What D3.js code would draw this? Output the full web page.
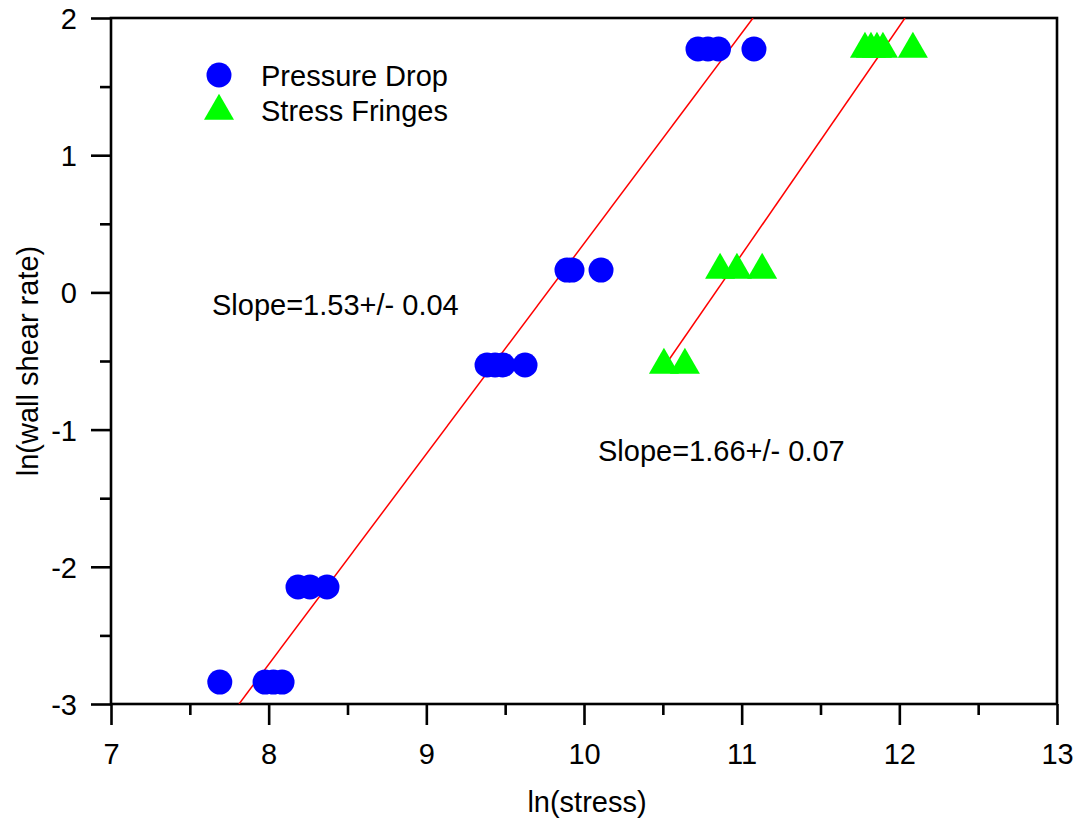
<!DOCTYPE html>
<html>
<head>
<meta charset="utf-8">
<script src="https://cdn.jsdelivr.net/npm/d3@7"></script>
<style>
  html, body { margin: 0; padding: 0; background: #fff; }
  svg { display: block; font-family: Arial, "Liberation Sans", sans-serif; }
</style>
</head>
<body>
<svg id="chart" width="1080" height="823"></svg>
<script>
// ---- Data ----
const pressureDropX = [7.69, 7.977, 8.03, 8.085, 8.186, 8.262, 8.37, 9.385, 9.436, 9.486, 9.626, 9.892, 9.924, 10.108, 10.723, 10.786, 10.853, 11.078];
const pressureDropY = [-2.84, -2.84, -2.84, -2.84, -2.147, -2.147, -2.147, -0.529, -0.529, -0.529, -0.529, 0.163, 0.163, 0.163, 1.774, 1.774, 1.774, 1.774];
const stressFringesX = [10.507, 10.64, 10.863, 10.97, 11.13, 11.782, 11.82, 11.858, 11.896, 12.086];
const stressFringesY = [-0.529, -0.529, 0.163, 0.163, 0.163, 1.774, 1.774, 1.774, 1.774, 1.774];
const fit1X = [7.812, 11.072];
const fit1Y = [-3, 2];
const fit2X = [10.507, 12.036];
const fit2Y = [-0.544, 2];
const xTicks = [7, 8, 9, 10, 11, 12, 13];
const xMinorTicks = [7.5, 8.5, 9.5, 10.5, 11.5, 12.5];
const yTicks = [-3, -2, -1, 0, 1, 2];
const yMinorTicks = [-2.5, -1.5, -0.5, 0.5, 1.5];
const seriesNames = ["Pressure Drop", "Stress Fringes"];
const annotations = ["Slope=1.53+/- 0.04", "Slope=1.66+/- 0.07"];
const xTitle = "ln(stress)";
const yTitle = "ln(wall shear rate)";

// ---- Layout ----
const L = 111, R = 1057, T = 18, B = 704;
const svg = d3.select("#chart");
const x = d3.scaleLinear().domain([7, 13]).range([L, R]);
const y = d3.scaleLinear().domain([-3, 2]).range([B, T]);

const FS = 29;
const triSize = 390;
const fmt = d => String(d);

// clip
svg.append("defs").append("clipPath").attr("id", "clip")
  .append("rect").attr("x", L).attr("y", T).attr("width", R - L).attr("height", B - T);

// frame
svg.append("rect").attr("x", L).attr("y", T).attr("width", R - L).attr("height", B - T)
  .attr("fill", "none").attr("stroke", "#000").attr("stroke-width", 2.6);

// axes
const xAxis = svg.append("g").attr("transform", `translate(0,${B})`)
  .call(d3.axisBottom(x).tickValues(xTicks).tickSize(21).tickPadding(18).tickFormat(fmt));
const xMinor = svg.append("g").attr("transform", `translate(0,${B})`)
  .call(d3.axisBottom(x).tickValues(xMinorTicks).tickSize(11).tickFormat(""));
const yAxis = svg.append("g").attr("transform", `translate(${L},0)`)
  .call(d3.axisLeft(y).tickValues(yTicks).tickSize(20).tickPadding(14).tickFormat(fmt));
const yMinor = svg.append("g").attr("transform", `translate(${L},0)`)
  .call(d3.axisLeft(y).tickValues(yMinorTicks).tickSize(11).tickFormat(""));

[xAxis, xMinor, yAxis, yMinor].forEach(g => {
  g.select(".domain").remove();
  g.selectAll(".tick line").attr("stroke", "#000").attr("stroke-width", 2.6);
  g.selectAll(".tick text").attr("font-size", FS).attr("fill", "#000")
    .attr("font-family", "Arial, 'Liberation Sans', sans-serif");
});
xAxis.selectAll(".tick text").attr("dy", "0.71em");
yAxis.selectAll(".tick text").attr("dy", "0.36em");

// fit lines
const plot = svg.append("g").attr("clip-path", "url(#clip)");
const line = d3.line().x(d => x(d[0])).y(d => y(d[1]));
[[fit1X, fit1Y], [fit2X, fit2Y]].forEach(([xs, ys]) => {
  plot.append("path").datum(xs.map((v, i) => [v, ys[i]]))
    .attr("d", line).attr("fill", "none").attr("stroke", "#ff0000").attr("stroke-width", 1.5);
});

// points
const pd = pressureDropX.map((v, i) => [v, pressureDropY[i]]);
const sf = stressFringesX.map((v, i) => [v, stressFringesY[i]]);
svg.append("g").selectAll("circle").data(pd).join("circle")
  .attr("cx", d => x(d[0])).attr("cy", d => y(d[1])).attr("r", 12.5).attr("fill", "#0000ff");
const tri = d3.symbol().type(d3.symbolTriangle).size(triSize);
svg.append("g").selectAll("path").data(sf).join("path")
  .attr("d", tri).attr("transform", d => `translate(${x(d[0])},${y(d[1])})`).attr("fill", "#00ff00");

// annotations
svg.append("text").attr("x", 212).attr("y", 315).attr("font-size", FS).text(annotations[0]);
svg.append("text").attr("x", 598).attr("y", 461).attr("font-size", FS).text(annotations[1]);

// legend
svg.append("circle").attr("cx", 219).attr("cy", 75).attr("r", 12.5).attr("fill", "#0000ff");
svg.append("path").attr("d", tri).attr("transform", "translate(219,111)").attr("fill", "#00ff00");
svg.append("text").attr("x", 261).attr("y", 86).attr("font-size", FS).text(seriesNames[0]);
svg.append("text").attr("x", 261).attr("y", 121).attr("font-size", FS).text(seriesNames[1]);

// titles
svg.append("text").attr("x", (L + R) / 2 + 3).attr("y", 812).attr("text-anchor", "middle")
  .attr("font-size", FS).text(xTitle);
svg.append("text").attr("transform", `translate(38,${(T + B) / 2})rotate(-90)`)
  .attr("text-anchor", "middle").attr("font-size", FS).text(yTitle);
</script>
</body>
</html>
